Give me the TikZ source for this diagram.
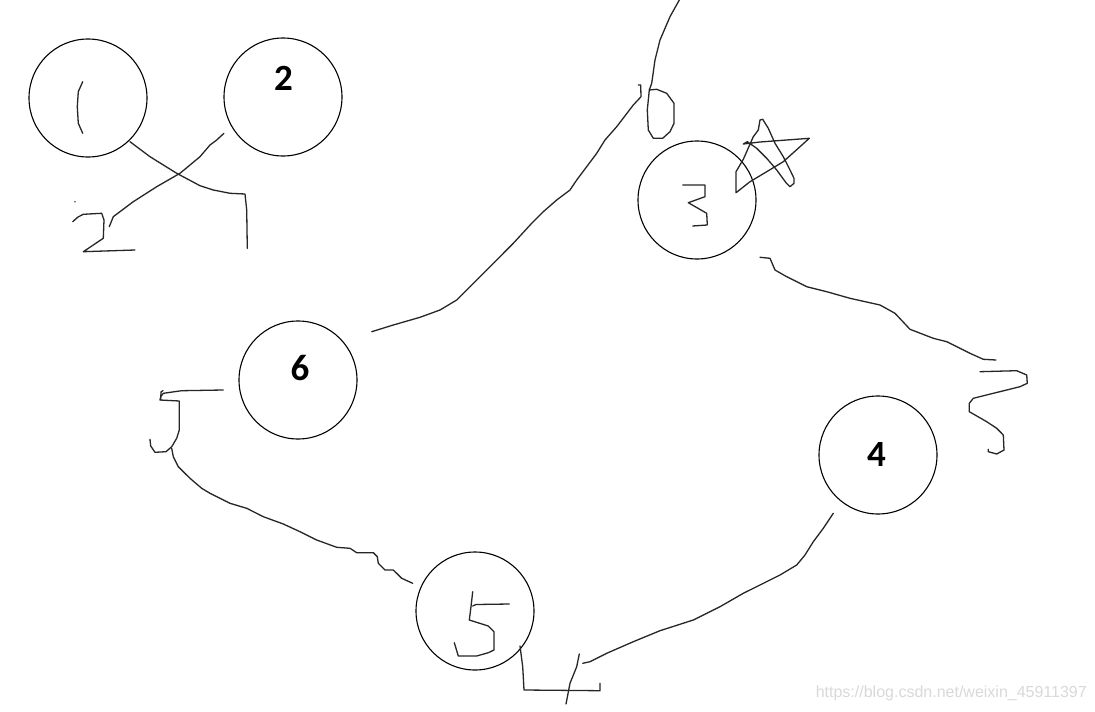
\documentclass[tikz,border=0pt]{standalone}
\usepackage{fontspec}
\setmainfont{Liberation Sans}
\newfontfamily\calfont{Carlito}
\begin{document}
\begin{tikzpicture}[x=1pt,y=-1pt,
  ring/.style={draw=black,line width=1.1pt,circle,minimum size=118pt,inner sep=0pt},
  num/.style={font=\calfont\fontsize{37}{37}\selectfont\bfseries,inner sep=0pt},
  ink/.style={draw=black!85,line width=1.3pt,line join=round,line cap=round},
  wmark/.style={font=\fontsize{16}{16}\selectfont,text=black!15,inner sep=0pt,anchor=east}]
\useasboundingbox[fill=white] (0,0) rectangle (1095,712);
% circles
\node[ring] (c1) at (88,98) {};
\node[ring] (c2) at (283,97) {};
\node[ring] (c3) at (697,200) {};
\node[ring] (c6) at (298,380) {};
\node[ring] (c4) at (878,455) {};
\node[ring] (c5) at (475,611) {};
% printed labels
\node[num] (l2) at (283.5,78) {2};
\node[num] (l6) at (300,368.5) {6};
\node[num] (l4) at (876.5,454) {4};
% hand-written "1"
\draw[ink] (82.7,81.7) -- (78.3,91.7) -- (77.3,106.7) -- (78.3,123.3) -- (82.7,133.3);
% strokes from 1 and 2
\draw[ink] (130,141.7) -- (150,156.7) -- (176.7,173.3) -- (200,185.7) -- (213.3,190) -- (230,193.3) -- (245,194) -- (246.7,210) -- (247.3,248.3);
\draw[ink] (224,133.3) -- (216.7,140) -- (210,145) -- (200,156.7) -- (180,173.3) -- (156.7,186.7) -- (133.3,201.7) -- (113.3,216.7) -- (109.3,226.7);
% hand-written "2"
\draw[ink] (72.7,221.7) -- (78,217) -- (83.3,214.3) -- (101.7,213.3) -- (104,220) -- (103.3,238.3) -- (93.3,245) -- (83.3,251.7) -- (135,250);
\fill[black!70] (75,201.7) circle (0.8pt);
% top curve and "D"
\draw[ink] (679.3,0) -- (670,16.7) -- (660,40) -- (655,60) -- (651.7,83.3) -- (649.3,90);
\draw[ink] (649.3,90) -- (656.7,89.3) -- (666.7,93.3) -- (674,103.3) -- (674,123.3) -- (670,131.7) -- (662.7,138.3) -- (653.3,138.3) -- (648.3,130) -- (647.3,110) -- (649.3,90);
% long stroke towards 6
\draw[ink] (638.3,85) -- (640.7,85) -- (641,96.7) -- (633.3,105) -- (616.7,126.7) -- (605,140) -- (596.7,153.3) -- (586.7,166.7) -- (576.7,180) -- (570,190) -- (556.7,200) -- (543.3,211.7) -- (531.7,223.3) -- (513.3,243.3) -- (496.7,260) -- (476.7,280) -- (456.7,300) -- (440,310) -- (420,317.3) -- (393.3,325) -- (371.7,331.7);
% hand-written "3"
\draw[ink] (682.7,185) -- (705,185) -- (705,196.7) -- (688.3,202.7) -- (706.7,213.3) -- (707.3,225) -- (692.7,226);
% star
\draw[ink] (736,192.7) -- (736,171.7) -- (743.3,159.3) -- (753.3,136.7) -- (758.3,130) -- (760,120) -- (762.7,119.3) -- (768.3,128.3) -- (775,143.3) -- (783.3,156.7) -- (790,170) -- (794,178.3) -- (794,183.3) -- (790,186.7) -- (786,182.7) -- (776.7,170) -- (766.7,158.3) -- (756.7,148.3) -- (747.3,141.7) -- (743.3,144) -- (760,142) -- (809.3,138.3) -- (800,146.7) -- (783.3,161.7) -- (766.7,171.7) -- (750,181.7) -- (736,192.7);
% stroke from 3 to the right
\draw[ink] (760,257.3) -- (770,258.3) -- (775,270) -- (786.7,276.7) -- (806.7,286.7) -- (826.7,291.7) -- (850,298.3) -- (880,305) -- (895,313.3) -- (910,329.3) -- (933.3,338.3) -- (946.7,341.7) -- (970,353.3) -- (983.3,359.3) -- (996,360);
% right squiggle
\draw[ink] (980,371.7) -- (1016.7,370.7) -- (1026.7,375) -- (1027.3,383.3) -- (1020,386.7) -- (993.3,393.3) -- (973.3,398.3) -- (969.3,403.3) -- (969.3,411.7) -- (986.7,421.7) -- (996.7,428.3) -- (1003.3,435) -- (1004,450) -- (996.7,454) -- (988.3,451.7) -- (988.3,449.3);
% stroke from 6 to the left
\draw[ink] (223.3,390) -- (181.7,390.7) -- (163.3,393.3) -- (160.7,396.7) -- (160,400) -- (179.3,401) -- (179.3,430) -- (176.7,438.3) -- (171.7,446.7) -- (166,451.7) -- (155,452.3) -- (150.7,446) -- (150,439.3);
\draw[ink] (160.7,400) -- (161,392) -- (163,390.5);
% long stroke from left to 5
\draw[ink] (171.7,448.3) -- (173.3,456.7) -- (178.3,466.7) -- (190,478.3) -- (201.7,488.3) -- (210,493.3) -- (230,503.3) -- (246.7,508.3) -- (263.3,516.7) -- (283.3,524) -- (300,531.7) -- (316.7,540) -- (336.7,547.3) -- (350,548.3) -- (356.7,552.7) -- (373.3,552.7) -- (377.3,556.7) -- (378.3,563.3) -- (385,570) -- (393.3,570) -- (401.7,578.3) -- (412.7,583.3);
% hand-written "5"
\draw[ink] (472.7,591.7) -- (471,606.7) -- (469.3,620) -- (488.3,626) -- (494,631.7) -- (494,650) -- (488.3,652.7) -- (476.7,656) -- (458.3,656) -- (454.3,642.7);
\draw[ink] (472.7,606) -- (476,604.5) -- (509.3,604);
% strokes below 5
\draw[ink] (520,646) -- (522.7,666.7) -- (524,690) -- (600,690.7) -- (600,683.3);
\draw[ink] (579.3,654) -- (576.7,666.7) -- (570,683.3) -- (566,704);
\draw[ink] (582.7,663.3) -- (590,661.7) -- (606.7,653.3) -- (633.3,641.7) -- (660,630.7) -- (693.3,620) -- (720,606.7) -- (743.3,593.3) -- (760,585) -- (780,575) -- (796.7,565) -- (805,555) -- (813.3,541.7) -- (823.3,528.3) -- (833.3,513.3);
% watermark
\node[wmark] (wm) at (1087,693) {https://blog.csdn.net/weixin\_45911397};
\end{tikzpicture}
\end{document}
